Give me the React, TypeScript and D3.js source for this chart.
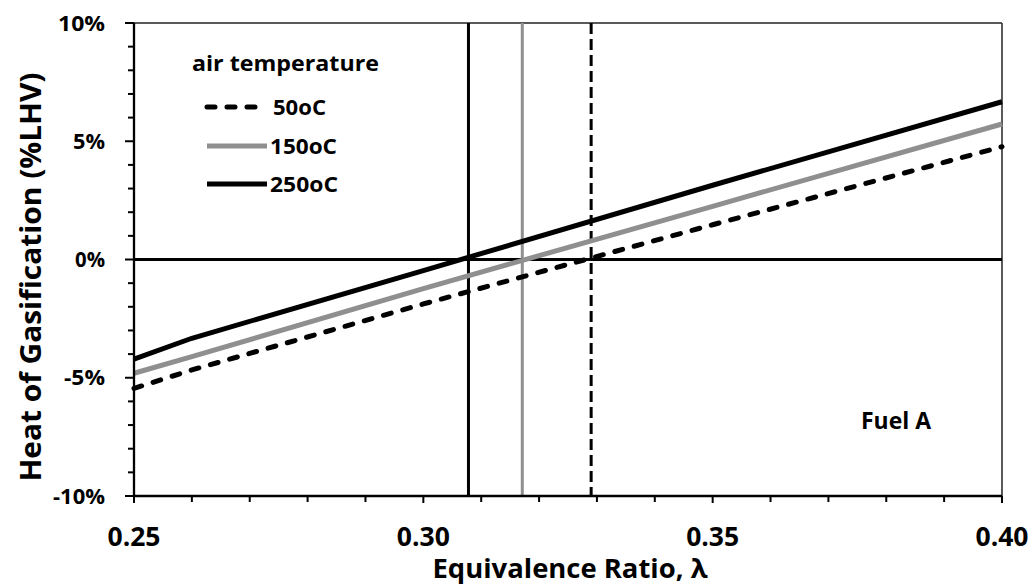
import React from "react";
import * as d3 from "d3";

const lambdaValues = [0.25, 0.26, 0.3, 0.35, 0.4];
const series50 = [-5.45, -4.67, -1.88, 1.47, 4.77];
const series150 = [-4.81, -4.11, -1.23, 2.25, 5.73];
const series250 = [-4.21, -3.33, -0.47, 3.14, 6.67];
const zeroCrossings = [0.329, 0.3171, 0.3078]; // 50, 150, 250
const seriesNames = ["50oC", "150oC", "250oC"];
const xTickLabels = ["0.25", "0.30", "0.35", "0.40"];
const xMajorTicks = [0.25, 0.3, 0.35, 0.4];
const yMajorTicks = [-10, -5, 0, 5, 10];
const yTickLabels = ["-10%", "-5%", "0%", "5%", "10%"];

const W = 1035;
const H = 588;
const left = 134;
const right = 1002;
const top = 23;
const bottom = 496;
const FONT = "'Open Sans', 'DejaVu Sans', sans-serif";
const GRAY = "#8f8f8f";

const yLabelWidths = [52, 41, 30, 32, 47];
const legendWidths = [53, 67, 68];

export default function App() {
  const x = d3.scaleLinear().domain([0.25, 0.4]).range([left, right]);
  const y = d3.scaleLinear().domain([-10, 10]).range([bottom, top]);
  const line = d3
    .line<number>()
    .x((_, i) => x(lambdaValues[i]))
    .y((d) => y(d));

  const seriesData = [series50, series150, series250];
  const styles = [
    { stroke: "#000", dash: "8,12", cap: "round" as const },
    { stroke: GRAY, dash: undefined, cap: "butt" as const },
    { stroke: "#000", dash: undefined, cap: "butt" as const },
  ];
  const vStyles = [
    { stroke: "#000", dash: "11,5" },
    { stroke: GRAY, dash: undefined },
    { stroke: "#000", dash: undefined },
  ];

  const xMinor = d3.range(0, 16).map((i) => 0.25 + i * 0.01);
  const yMinor = d3.range(-10, 11, 1);

  const legendY = [107, 146, 184];

  return (
    <svg
      width={W}
      height={H}
      style={{ position: "absolute", left: 0, top: 0, background: "#fff" }}
      fontFamily={FONT}
      fontWeight="bold"
    >
      <rect x={0} y={0} width={W} height={H} fill="#fff" />
      {/* plot border top/right */}
      <line x1={left} x2={right} y1={top} y2={top} stroke="#222" strokeWidth={1.5} />
      <line x1={right} x2={right} y1={top} y2={bottom} stroke="#222" strokeWidth={1.5} />

      {/* vertical zero-crossing lines */}
      {zeroCrossings.map((v, i) => (
        <line
          key={"v" + i}
          x1={x(v)}
          x2={x(v)}
          y1={top}
          y2={bottom}
          stroke={vStyles[i].stroke}
          strokeWidth={3}
          strokeDasharray={vStyles[i].dash}
        />
      ))}

      {/* zero line */}
      <line x1={left} x2={right} y1={y(0)} y2={y(0)} stroke="#000" strokeWidth={3} />

      {/* series */}
      {seriesData.map((s, i) => (
        <path
          key={"s" + i}
          d={line(s) || ""}
          fill="none"
          stroke={styles[i].stroke}
          strokeWidth={5}
          strokeDasharray={styles[i].dash}
          strokeLinecap={styles[i].cap}
        />
      ))}

      {/* axes */}
      <line x1={left} x2={left} y1={top} y2={bottom} stroke="#000" strokeWidth={2.3} />
      <line x1={left} x2={right} y1={bottom} y2={bottom} stroke="#000" strokeWidth={2.3} />
      {yMinor.map((v) => (
        <line
          key={"yt" + v}
          x1={left - (v % 5 === 0 ? 9 : 6)}
          x2={left}
          y1={y(v)}
          y2={y(v)}
          stroke="#000"
          strokeWidth={2}
        />
      ))}
      {xMinor.map((v, i) => (
        <line
          key={"xt" + i}
          x1={x(v)}
          x2={x(v)}
          y1={bottom}
          y2={bottom + (i % 5 === 0 ? 7 : 6)}
          stroke="#000"
          strokeWidth={2}
        />
      ))}

      {/* tick labels */}
      {yMajorTicks.map((v, i) => (
        <text
          key={"yl" + v}
          x={105}
          y={y(v) + 7.5}
          textAnchor="end"
          fontSize={21}
          fill="#000"
          textLength={yLabelWidths[i]}
          lengthAdjust="spacingAndGlyphs"
        >
          {yTickLabels[i]}
        </text>
      ))}
      {xMajorTicks.map((v, i) => (
        <text
          key={"xl" + v}
          x={x(v)}
          y={546}
          textAnchor="middle"
          fontSize={27}
          fill="#000"
          textLength={53}
          lengthAdjust="spacingAndGlyphs"
        >
          {xTickLabels[i]}
        </text>
      ))}

      {/* axis titles */}
      <text
        x={570}
        y={578}
        textAnchor="middle"
        fontSize={27}
        fill="#000"
        textLength={275}
        lengthAdjust="spacingAndGlyphs"
      >
        Equivalence Ratio, λ
      </text>
      <text
        transform="translate(41,277) rotate(-90)"
        textAnchor="middle"
        fontSize={28}
        fill="#000"
        textLength={409}
        lengthAdjust="spacingAndGlyphs"
      >
        Heat of Gasification (%LHV)
      </text>

      {/* legend */}
      <text
        x={192}
        y={71}
        fontSize={22}
        fill="#000"
        textLength={187}
        lengthAdjust="spacingAndGlyphs"
      >
        air temperature
      </text>
      {seriesNames.map((n, i) => (
        <g key={"lg" + i}>
          <line
            x1={207}
            x2={i === 0 ? 260 : 267}
            y1={legendY[i]}
            y2={legendY[i]}
            stroke={styles[i].stroke}
            strokeWidth={5}
            strokeDasharray={styles[i].dash}
            strokeLinecap={styles[i].cap}
          />
          <text
            x={i === 0 ? 273 : 270}
            y={legendY[i] + 8}
            fontSize={22}
            fill="#000"
            textLength={legendWidths[i]}
            lengthAdjust="spacingAndGlyphs"
          >
            {n}
          </text>
        </g>
      ))}

      {/* annotation */}
      <text
        x={861}
        y={429}
        fontSize={24}
        fill="#000"
        textLength={70}
        lengthAdjust="spacingAndGlyphs"
      >
        Fuel A
      </text>
    </svg>
  );
}
